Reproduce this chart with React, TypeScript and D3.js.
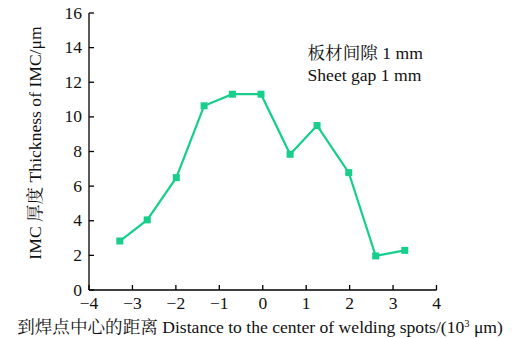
import React from "react";
import * as d3 from "d3";

const distances = [-3.29, -2.66, -1.99, -1.35, -0.7, -0.04, 0.63, 1.25, 1.98, 2.6, 3.27];
const thickness = [2.83, 4.05, 6.49, 10.64, 11.31, 11.31, 7.84, 9.5, 6.78, 1.97, 2.29];
const xTicks = [-4, -3, -2, -1, 0, 1, 2, 3, 4];
const yTicks = [0, 2, 4, 6, 8, 10, 12, 14, 16];

const FONT = "'Liberation Serif', 'Times New Roman', 'Noto Serif CJK SC', 'Noto Sans CJK SC', serif";
const COLOR = "#17cf8b";

export default function App() {
  const W = 512, H = 338;
  const x = d3.scaleLinear().domain([-4, 4]).range([89, 436.5]);
  const y = d3.scaleLinear().domain([0, 16]).range([290, 13]);
  const pts = distances.map((d, i) => [x(d), y(thickness[i])] as [number, number]);
  const line = d3.line()(pts) || "";
  const ms = 7;
  const fs = 17.6;
  return (
    <svg width={W} height={H} style={{ position: "absolute", left: 0, top: 0 }} fontFamily={FONT}>
      <rect width={W} height={H} fill="#fff" />
      {/* axes */}
      <line x1={x(-4)} x2={x(4)} y1={y(0)} y2={y(0)} stroke="#000" strokeWidth={1.3} />
      <line x1={x(-4)} x2={x(-4)} y1={y(0)} y2={y(16)} stroke="#000" strokeWidth={1.3} />
      {xTicks.map((t) => (
        <g key={"xt" + t}>
          <line x1={x(t)} x2={x(t)} y1={y(0)} y2={y(0) - 5} stroke="#000" strokeWidth={1.3} />
          <text x={x(t)} y={309} textAnchor="middle" fontSize={17.5} fill="#111">
            {t < 0 ? "\u2212" + Math.abs(t) : String(t)}
          </text>
        </g>
      ))}
      {yTicks.map((t) => (
        <g key={"yt" + t}>
          <line x1={x(-4)} x2={x(-4) + 5} y1={y(t)} y2={y(t)} stroke="#000" strokeWidth={1.3} />
          <text x={82} y={y(t) + 5.5} textAnchor="end" fontSize={17.5} fill="#111">
            {t}
          </text>
        </g>
      ))}
      {/* series */}
      <path d={line} fill="none" stroke={COLOR} strokeWidth={2.2} />
      {pts.map(([px, py], i) => (
        <rect key={"m" + i} x={px - ms / 2} y={py - ms / 2} width={ms} height={ms} fill={COLOR} />
      ))}
      {/* annotation */}
      <text x={307.5} y={59} fontSize={fs} fill="#111">板材间隙 1 mm</text>
      <text x={307.5} y={80.5} fontSize={fs} fill="#111">Sheet gap 1 mm</text>
      {/* axis titles */}
      <text x={260} y={333} textAnchor="middle" fontSize={fs} fill="#111">
        到焊点中心的距离 Distance to the center of welding spots/(10
        <tspan dy={-6.5} fontSize={10.5}>3</tspan>
        <tspan dy={6.5}> μm)</tspan>
      </text>
      <text transform="translate(41,143) rotate(-90)" textAnchor="middle" fontSize={fs} fill="#111">
        IMC 厚度 Thickness of IMC/μm
      </text>
    </svg>
  );
}
